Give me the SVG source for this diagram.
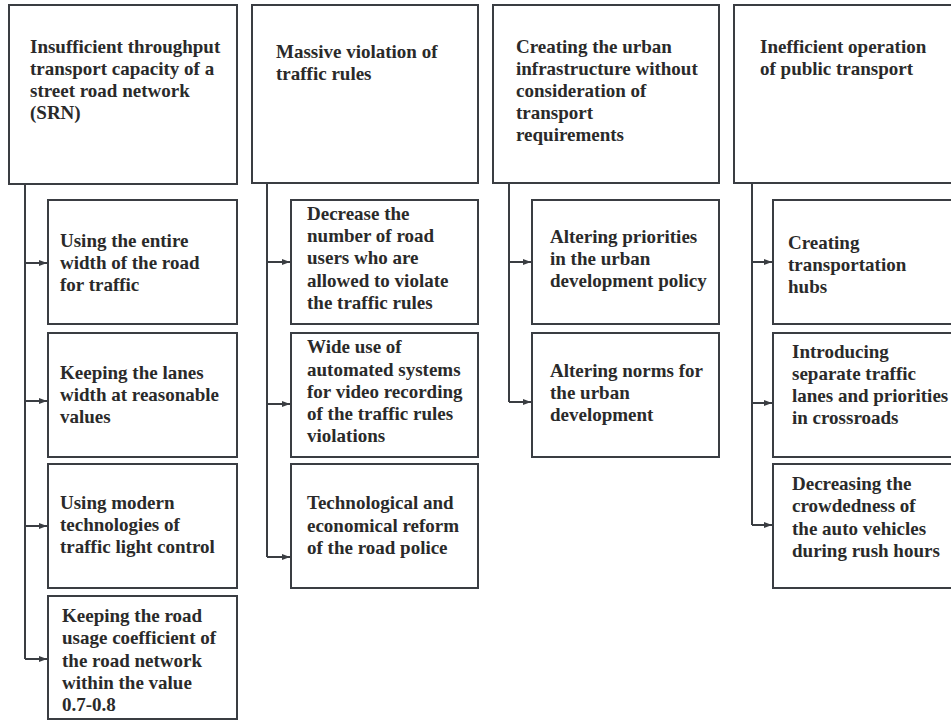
<svg xmlns="http://www.w3.org/2000/svg" width="951" height="721" viewBox="0 0 951 721">
<defs>
<style>
rect{fill:#fff;stroke:#3a3d42;stroke-width:2}
text{font-family:"Liberation Serif","Times New Roman",serif;font-weight:bold;font-size:19px;fill:#2a2a2a}
.c{fill:none;stroke:#3a3d42;stroke-width:2}
</style>
<marker id="ah" viewBox="0 0 8 8" refX="8" refY="4" markerWidth="8" markerHeight="8" markerUnits="userSpaceOnUse" orient="auto">
<path d="M0,1 L8,4 L0,7 Z" fill="#3a3d42"/>
</marker>
</defs>
<rect x="0" y="0" width="951" height="721" style="fill:#fff;stroke:none"/>
<g id="connectors">
<path class="c" d="M25,184 V659"/>
<path class="c" d="M25,263 H47" marker-end="url(#ah)"/>
<path class="c" d="M25,401 H47" marker-end="url(#ah)"/>
<path class="c" d="M25,526 H47" marker-end="url(#ah)"/>
<path class="c" d="M25,659 H47" marker-end="url(#ah)"/>
<path class="c" d="M267,183 V557"/>
<path class="c" d="M267,262 H290" marker-end="url(#ah)"/>
<path class="c" d="M267,404 H290" marker-end="url(#ah)"/>
<path class="c" d="M267,557 H290" marker-end="url(#ah)"/>
<path class="c" d="M509,183 V402"/>
<path class="c" d="M509,262 H531" marker-end="url(#ah)"/>
<path class="c" d="M509,402 H531" marker-end="url(#ah)"/>
<path class="c" d="M752,183 V525"/>
<path class="c" d="M752,262 H772" marker-end="url(#ah)"/>
<path class="c" d="M752,403 H772" marker-end="url(#ah)"/>
<path class="c" d="M752,525 H772" marker-end="url(#ah)"/>
</g>
<g id="p1">
<rect x="9" y="5" width="228" height="179"/>
<text x="30" y="53">Insufficient throughput</text>
<text x="30" y="75">transport capacity of a</text>
<text x="30" y="97">street road network</text>
<text x="30" y="119">(SRN)</text>
</g>
<g id="p1s1">
<rect x="48" y="200" width="189" height="124"/>
<text x="60" y="247">Using the entire</text>
<text x="60" y="269">width of the road</text>
<text x="60" y="291">for traffic</text>
</g>
<g id="p1s2">
<rect x="48" y="333" width="189" height="124"/>
<text x="60" y="379">Keeping the lanes</text>
<text x="60" y="401">width at reasonable</text>
<text x="60" y="423">values</text>
</g>
<g id="p1s3">
<rect x="48" y="464" width="189" height="124"/>
<text x="60" y="509">Using modern</text>
<text x="60" y="531">technologies of</text>
<text x="60" y="553">traffic light control</text>
</g>
<g id="p1s4">
<rect x="48" y="596" width="189" height="123"/>
<text x="62" y="622">Keeping the road</text>
<text x="62" y="644">usage coefficient of</text>
<text x="62" y="667">the road network</text>
<text x="62" y="689">within the value</text>
<text x="62" y="711">0.7-0.8</text>
</g>
<g id="p2">
<rect x="252" y="5" width="226" height="178"/>
<text x="276" y="58">Massive violation of</text>
<text x="276" y="80">traffic rules</text>
</g>
<g id="p2s1">
<rect x="291" y="200" width="187" height="124"/>
<text x="307" y="220">Decrease the</text>
<text x="307" y="242">number of road</text>
<text x="307" y="264">users who are</text>
<text x="307" y="287">allowed to violate</text>
<text x="307" y="309">the traffic rules</text>
</g>
<g id="p2s2">
<rect x="291" y="333" width="187" height="124"/>
<text x="307" y="353">Wide use of</text>
<text x="307" y="376">automated systems</text>
<text x="307" y="398">for video recording</text>
<text x="307" y="420">of the traffic rules</text>
<text x="307" y="442">violations</text>
</g>
<g id="p2s3">
<rect x="291" y="464" width="187" height="124"/>
<text x="307" y="509">Technological and</text>
<text x="307" y="532">economical reform</text>
<text x="307" y="554">of the road police</text>
</g>
<g id="p3">
<rect x="493" y="5" width="226" height="178"/>
<text x="516" y="53">Creating the urban</text>
<text x="516" y="75">infrastructure without</text>
<text x="516" y="97">consideration of</text>
<text x="516" y="119">transport</text>
<text x="516" y="141">requirements</text>
</g>
<g id="p3s1">
<rect x="532" y="200" width="187" height="124"/>
<text x="550" y="243">Altering priorities</text>
<text x="550" y="265">in the urban</text>
<text x="550" y="287">development policy</text>
</g>
<g id="p3s2">
<rect x="532" y="333" width="187" height="124"/>
<text x="550" y="377">Altering norms for</text>
<text x="550" y="399">the urban</text>
<text x="550" y="421">development</text>
</g>
<g id="p4">
<rect x="734" y="5" width="240" height="178"/>
<text x="760" y="53">Inefficient operation</text>
<text x="760" y="75">of public transport</text>
</g>
<g id="p4s1">
<rect x="773" y="200" width="200" height="124"/>
<text x="788" y="249">Creating</text>
<text x="788" y="271">transportation</text>
<text x="788" y="293">hubs</text>
</g>
<g id="p4s2">
<rect x="773" y="333" width="200" height="124"/>
<text x="792" y="358">Introducing</text>
<text x="792" y="380">separate traffic</text>
<text x="792" y="402">lanes and priorities</text>
<text x="792" y="424">in crossroads</text>
</g>
<g id="p4s3">
<rect x="773" y="464" width="200" height="124"/>
<text x="792" y="490">Decreasing the</text>
<text x="792" y="512">crowdedness of</text>
<text x="792" y="535">the auto vehicles</text>
<text x="792" y="557">during rush hours</text>
</g>
</svg>
